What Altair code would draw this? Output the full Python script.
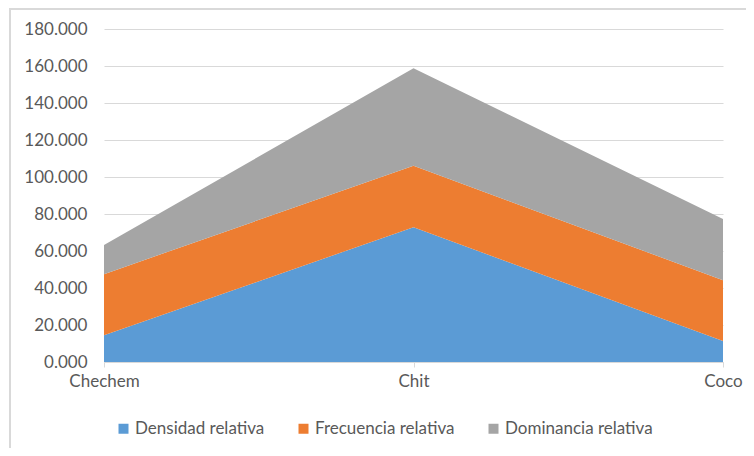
import altair as alt
import pandas as pd

categories = ["Chechem", "Chit", "Coco"]
series = ["Densidad relativa", "Frecuencia relativa", "Dominancia  relativa"]
densidad = [14.5, 72.8, 11.4]
frecuencia = [33.0, 33.3, 32.8]
dominancia = [15.7, 52.7, 33.1]
colors = ["#5b9bd5", "#ed7d31", "#a5a5a5"]
y_ticks = [0, 20, 40, 60, 80, 100, 120, 140, 160, 180]

rows = []
for si, (name, vals) in enumerate(zip(series, [densidad, frecuencia, dominancia])):
    for c, v in zip(categories, vals):
        rows.append({"cat": c, "serie": name, "valor": v, "orden": si})
df = pd.DataFrame(rows)

FONT = "Lato"
GRAY_TXT = "#595959"
FS = 17

area = alt.Chart(df).mark_area(opacity=1, line=False).encode(
    x=alt.X("cat:N", sort=categories,
            scale=alt.Scale(type="point", padding=0),
            axis=alt.Axis(title=None, labelAngle=0, domainColor="#d9d9d9",
                          tickColor="#d9d9d9", tickSize=5, labelPadding=6,
                          labelFontSize=FS, labelColor=GRAY_TXT, labelFont=FONT,
                          grid=False)),
    y=alt.Y("valor:Q", stack="zero",
            scale=alt.Scale(domain=[0, 180], nice=False),
            axis=alt.Axis(title=None, values=y_ticks, format=".3f",
                          domain=False, ticks=False, gridColor="#d9d9d9",
                          labelPadding=17, labelFontSize=FS, labelColor=GRAY_TXT,
                          labelFont=FONT)),
    color=alt.Color("serie:N", sort=series,
                    scale=alt.Scale(domain=series, range=colors),
                    legend=alt.Legend(title=None, orient="none", direction="horizontal",
                                      legendX=11, legendY=391, symbolType="square",
                                      symbolSize=100, symbolStrokeWidth=0,
                                      labelFontSize=FS, labelColor=GRAY_TXT,
                                      labelFont=FONT, columnPadding=30,
                                      labelOffset=3, padding=0, labelLimit=300)),
    order=alt.Order("orden:Q", sort="ascending"),
)

frame = alt.Chart(df).mark_rect(fill=None, stroke="#d9d9d9", strokeWidth=2).encode(
    x=alt.value(-94), x2=alt.value(700), y=alt.value(-20), y2=alt.value(480))

chart = alt.layer(area, frame).properties(
    width=619, height=333,
    autosize=alt.AutoSizeParams(type="none"),
    padding={"left": 96, "top": 21, "right": 23, "bottom": 86},
    background="white",
).configure_view(stroke=None)

chart.save("out.html", embed_options={"renderer": "svg", "actions": False})
